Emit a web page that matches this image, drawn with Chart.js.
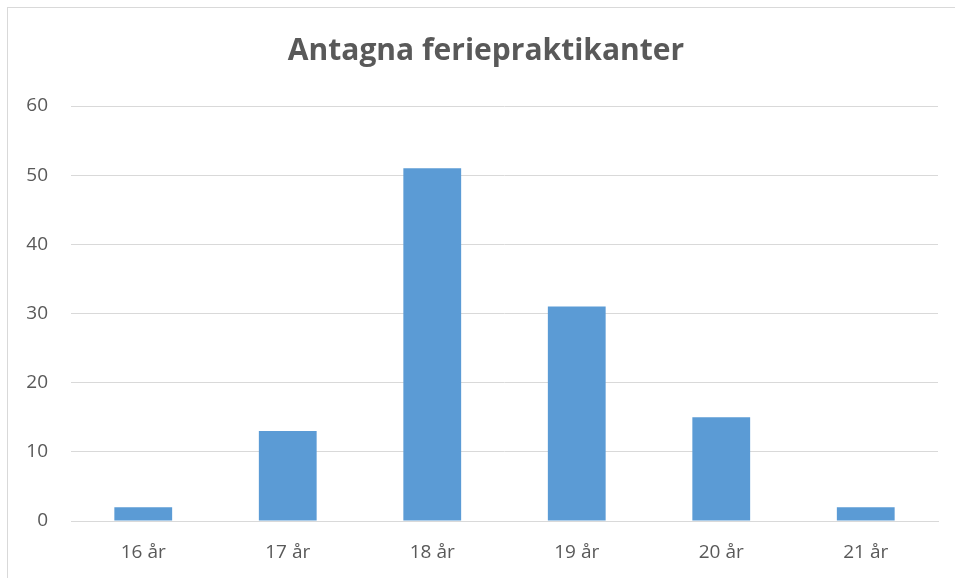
<!DOCTYPE html>
<html>
<head>
<meta charset="utf-8">
<script src="https://cdn.jsdelivr.net/npm/chart.js@4"></script>
<style>
  html, body { margin: 0; padding: 0; background: #fff; overflow: hidden; }
  #wrap { position: relative; width: 955px; height: 578px; }
  #frame { position: absolute; left: 7px; top: 7px; width: 1000px; height: 1000px; border: 1px solid #d9d9d9; }
  canvas { position: absolute; left: 0; top: 0; }
</style>
</head>
<body>
<div id="wrap">
  <div id="frame"></div>
  <canvas id="chart" width="955" height="578"></canvas>
</div>
<script>
// Data
const categories = ['16 år', '17 år', '18 år', '19 år', '20 år', '21 år'];
const antagna = [2, 13, 51, 31, 15, 2];
const chartTitle = 'Antagna feriepraktikanter';

const textColor = '#595959';
const gridColor = '#d9d9d9';
const fontFamily = '"Open Sans", Calibri, sans-serif';

// the original title sits a bit right of the plot centre
const titleShift = {
  id: 'titleShift',
  afterLayout(chart) {
    const t = chart.titleBlock;
    if (t) { t.left += 13; t.right += 13; }
  }
};

const ctx = document.getElementById('chart').getContext('2d');
new Chart(ctx, {
  type: 'bar',
  data: {
    labels: categories,
    datasets: [{
      label: 'Antagna',
      data: antagna,
      backgroundColor: '#5b9bd5',
      barPercentage: 0.4,
      categoryPercentage: 1
    }]
  },
  options: {
    responsive: false,
    animation: false,
    layout: { padding: { left: 8, right: 17, top: 0, bottom: 0 } },
    plugins: {
      legend: { display: false },
      tooltip: { enabled: false },
      title: {
        display: true,
        text: chartTitle,
        color: textColor,
        font: { family: fontFamily, size: 30, weight: 'bold', lineHeight: 1.2 },
        padding: { top: 33, bottom: 37 }
      }
    },
    scales: {
      x: {
        grid: { display: false, drawTicks: false },
        border: { display: true, color: gridColor },
        ticks: { color: textColor, font: { family: fontFamily, size: 19 }, padding: 20 },
        afterFit: s => { s.height = 57; }
      },
      y: {
        min: 0,
        max: 60,
        grid: { color: gridColor, drawTicks: false },
        border: { display: false },
        ticks: { stepSize: 10, color: textColor, font: { family: fontFamily, size: 19 }, padding: 23 },
        afterFit: s => { s.width = 63; }
      }
    }
  },
  plugins: [titleShift]
});
</script>
</body>
</html>
